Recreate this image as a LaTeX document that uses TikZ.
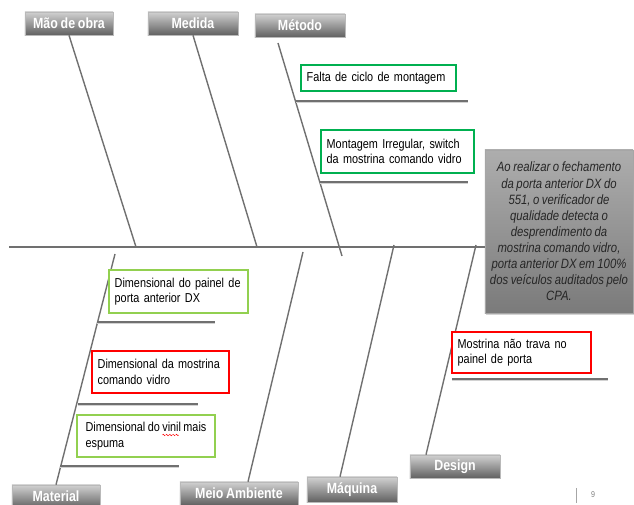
\documentclass[tikz,border=0pt]{standalone}
\usepackage{fontspec}
\setmainfont{Liberation Sans}[FakeStretch=0.84, WordSpace=0.8]
\usetikzlibrary{shadows}
\hyphenpenalty=10000
\newcommand\spellwave[1]{\setbox0\hbox{#1}\rlap{\raisebox{-2.4pt}{\hbox to\wd0{\leaders\hbox{\tikz[baseline=0pt]
  \draw [red, line width=0.35pt] (0pt,0pt) sin (0.5pt,0.5pt) cos (1pt,0pt) sin (1.5pt,-0.5pt) cos (2pt,0pt);}\hfill}}}\box0\relax}
\definecolor{boxgreen}{RGB}{0,176,80}
\definecolor{lightgreen}{RGB}{146,208,80}
\definecolor{bonegray}{RGB}{112,112,112}
\begin{document}
\begin{tikzpicture}[x=0.025cm, y=-0.025cm,
  bone/.style={draw=bonegray, line width=1pt},
  spine/.style={draw=bonegray, line width=1.6pt},
  sub line/.style={draw=bonegray, line width=1.4pt},
  head node/.style={draw=gray!55, top color=black!18, bottom color=black!62, text=white,
    font=\fontsize{10.5}{12}\selectfont\bfseries, minimum width=2.25cm, minimum height=0.575cm,
    inner sep=0pt, drop shadow={shadow xshift=1pt, shadow yshift=-1pt, opacity=.35}},
  cause node/.style={draw, line width=1pt, fill=white, align=left,
    font=\fontsize{9.2}{11}\selectfont, inner xsep=4pt, inner ysep=2pt},
  effect node/.style={draw=gray!70, top color=black!32, bottom color=black!52, text=black!85,
    align=center, font=\fontsize{9.6}{11.45}\selectfont\itshape, inner sep=0pt,
    minimum width=3.7cm, minimum height=4.075cm,
    drop shadow={shadow xshift=1pt, shadow yshift=-1.5pt, opacity=.35}}]
\useasboundingbox (0,0) rectangle (634,505);

% categories
\node [head node, minimum width=2.2cm] (mao) at (69,23.5) {Mão de obra};
\node [head node] (medida) at (193,23.5) {Medida};
\node [head node] (metodo) at (300,25.5) {Método};
\node [head node, minimum width=2.2cm] (material) at (56,496.5) {Material};
\node [head node, minimum width=2.95cm] (meio) at (239,493.5) {Meio Ambiente};
\node [head node, minimum height=0.625cm] (maquina) at (352,489.5) {Máquina};
\node [head node] (design) at (455,466.5) {Design};

% effect
\node [effect node] (efeito) at (559,231.5) {Ao realizar o fechamento\\ da porta anterior DX do\\
  551, o verificador de\\ qualidade detecta o\\ desprendimento da\\ mostrina comando vidro,\\
  porta anterior DX em 100\%\\ dos veículos auditados pelo\\ CPA.};

% spine and bones
\coordinate (s0) at (9,247);
\draw [spine] (s0) -- (s0 -| efeito.west);
\coordinate (j1) at (136,247);
\coordinate (j2) at (257,247);
\coordinate (m3) at (278,43);
\coordinate (j3) at (342,256);
\coordinate (j4) at (115,254);
\coordinate (j5) at (303,252);
\coordinate (j6) at (394,245);
\coordinate (j7) at (476,245);
\draw [bone] (mao.south) -- (j1);
\draw [bone] (medida.south) -- (j2);
\draw [bone] (m3) -- (j3);
\draw [bone] (material.north) -- (j4);
\draw [bone] ([xshift=0.225cm]meio.north) -- (j5);
\draw [bone] ([xshift=-0.3cm]maquina.north) -- (j6);
\draw [bone] ([xshift=-0.725cm]design.north) -- (j7);

% sub causes
\foreach \a/\b/\y in {296/468/101, 320/468/182, 97/215/322, 78/198/404, 60/179/466, 452/608/379} {
  \coordinate (p\y) at (\a,\y);
  \coordinate (q\y) at (\b,\y);
  \draw [gray!35, line width=1.4pt] ([yshift=-1pt]p\y) -- ([yshift=-1pt]q\y);
  \draw [sub line] (p\y) -- (q\y);
}

\node [cause node, draw=boxgreen, minimum width=3.875cm, minimum height=0.65cm, text width=3.59cm] (falta) at (378.5,78) {Falta de ciclo de montagem};
\node [cause node, draw=boxgreen, minimum width=3.825cm, minimum height=1.075cm, text width=3.54cm] (irregular) at (397.5,151.5) {Montagem Irregular, switch\\ da mostrina comando vidro};
\node [cause node, draw=lightgreen, minimum width=3.475cm, minimum height=1.075cm, text width=3.19cm] (painel) at (178.5,291.5) {Dimensional do painel de\\ porta anterior DX};
\node [cause node, draw=red, minimum width=3.425cm, minimum height=1.05cm, text width=3.14cm] (mostrina) at (160.5,372) {Dimensional da mostrina\\ comando vidro};
\node [cause node, draw=lightgreen, minimum width=3.45cm, minimum height=1.05cm, inner xsep=2pt] (vinil) at (146,436) {Dimensional do \spellwave{vinil} mais\\ espuma};
\node [cause node, draw=red, minimum width=3.475cm, minimum height=1.025cm, text width=3.19cm] (trava) at (521.5,352.5) {Mostrina não trava no\\ painel de porta};

% page number
\coordinate (b0) at (576,488);
\coordinate (b1) at (576,503);
\draw [gray!70, line width=0.6pt] (b0) -- (b1);
\node [text=gray, font=\fontsize{6}{7}\selectfont] (pagina) at (593,495) {9};
\end{tikzpicture}
\end{document}
